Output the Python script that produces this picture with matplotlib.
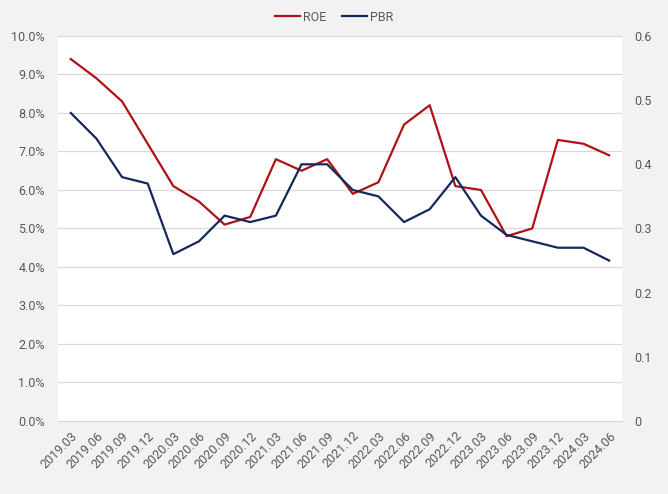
import numpy as np
import matplotlib.pyplot as plt
from matplotlib.ticker import MultipleLocator, FuncFormatter

plt.rcParams['font.family'] = ['Roboto', 'DejaVu Sans']

quarters = ['2019.03', '2019.06', '2019.09', '2019.12', '2020.03', '2020.06', '2020.09', '2020.12',
            '2021.03', '2021.06', '2021.09', '2021.12', '2022.03', '2022.06', '2022.09', '2022.12',
            '2023.03', '2023.06', '2023.09', '2023.12', '2024.03', '2024.06']
roe = [9.4, 8.9, 8.3, 7.2, 6.1, 5.7, 5.1, 5.3, 6.8, 6.5, 6.8, 5.9, 6.2, 7.7, 8.2, 6.1,
       6.0, 4.8, 5.0, 7.3, 7.2, 6.9]
pbr = [0.48, 0.44, 0.38, 0.37, 0.26, 0.28, 0.32, 0.31, 0.32, 0.40, 0.40, 0.36, 0.35, 0.31,
       0.33, 0.38, 0.32, 0.29, 0.28, 0.27, 0.27, 0.25]

bg = '#f2f2f2'
txt = '#595959'

fig = plt.figure(figsize=(6.68, 4.94), dpi=100, facecolor=bg)
ax = fig.add_axes([0.0868, 0.1478, 0.8443, 0.7794])
ax2 = ax.twinx()

x = np.arange(len(quarters))
l1, = ax.plot(x, roe, color='#b01117', lw=1.6, label='ROE')
l2, = ax2.plot(x, pbr, color='#14295a', lw=1.6, label='PBR')

ax.set_xlim(-0.5, len(quarters) - 0.5)
ax.set_ylim(0, 10)
ax2.set_ylim(0, 0.6)
ax.yaxis.set_major_locator(MultipleLocator(1))
ax2.yaxis.set_major_locator(MultipleLocator(0.1))
ax.yaxis.set_major_formatter(FuncFormatter(lambda v, p: f'{v:.1f}%'))
ax2.yaxis.set_major_formatter(FuncFormatter(lambda v, p: f'{v:.1f}' if round(v, 2) != 0 else '0'))

ax.set_xticks(x)
ax.set_xticklabels(quarters, rotation=45, ha='right', rotation_mode='anchor')

ax.grid(axis='y', color='#d9d9d9', lw=0.9)
ax.set_axisbelow(True)
for a in (ax, ax2):
    for s in a.spines.values():
        s.set_visible(False)
    a.tick_params(length=0, labelsize=9, labelcolor=txt)
ax.spines['bottom'].set_visible(True)
ax.spines['bottom'].set_color('#d9d9d9')
ax.tick_params(axis='y', pad=9.5)
ax2.tick_params(axis='y', pad=9)
ax.tick_params(axis='x', pad=6)

fig.legend(handles=[l1, l2], loc='center', bbox_to_anchor=(0.5, 0.965), ncol=2, frameon=False,
           fontsize=9, labelcolor=txt, handlelength=2, handletextpad=0.3, columnspacing=1.2)

fig.savefig('out.png', dpi=100, facecolor=bg)
